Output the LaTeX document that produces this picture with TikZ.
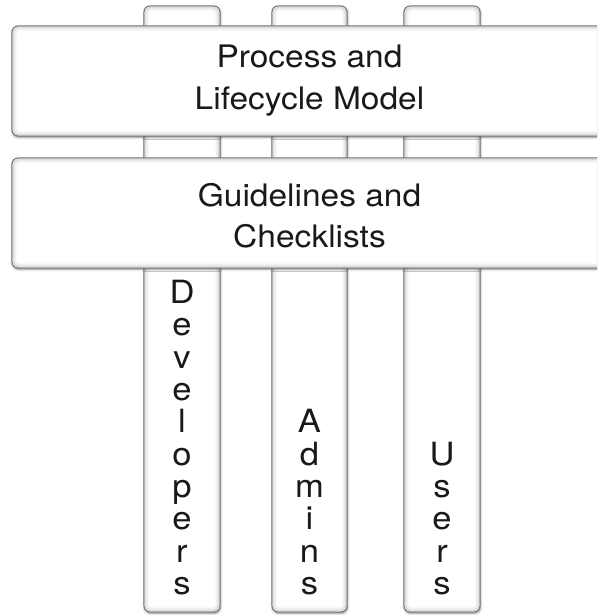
\documentclass[tikz,border=0pt]{standalone}
\usepackage{fontspec}
\setmainfont{TeX Gyre Heros}[FakeStretch=1.08]
\usetikzlibrary{shadows.blur}
\tikzset{
  panel/.style={draw=black!55, line width=1.1pt, fill=white, rounded corners=6pt,
    blur shadow={shadow xshift=0.6pt, shadow yshift=-1.4pt, shadow blur radius=2.2pt, shadow opacity=45}},
  glowA/.style={draw=black!14, line width=2pt, rounded corners=5pt},
  glowB/.style={draw=black!6, line width=2pt, rounded corners=4pt},
  collabel/.style={anchor=south, inner sep=0pt, align=center, font=\fontsize{32}{32.3}\selectfont, text=black!90},
  barlabel/.style={anchor=base, inner sep=0pt, font=\fontsize{31}{42}\selectfont, text=black!90},
}
\newcommand\mypanel[4]{%
  \path[panel] (#1,#2) rectangle (#3,#4);
  \draw[glowA] (#1+1.6,#2+1.6) rectangle (#3-1.6,#4-1.6);
  \draw[glowB] (#1+3.4,#2+3.4) rectangle (#3-3.4,#4-3.4);
}
\begin{document}
\begin{tikzpicture}[x=1pt,y=-1pt]
\useasboundingbox (0,0) rectangle (597,615);
\clip (0,0) rectangle (597,615);
% columns
\mypanel{144}{6}{220}{612}
\mypanel{272}{6}{347}{612}
\mypanel{404}{6}{480}{612}
\coordinate (devbot) at (182,595);
\coordinate (admbot) at (309.5,595);
\coordinate (usrbot) at (442,595);
\node[collabel] (dev) at (devbot) {D\\e\\v\\e\\l\\o\\p\\e\\r\\s};
\node[collabel] (adm) at (admbot) {A\\d\\m\\i\\n\\s};
\node[collabel] (usr) at (usrbot) {U\\s\\e\\r\\s};
% bars
\mypanel{12}{26}{640}{136}
\mypanel{12}{158}{640}{268}
\node[barlabel] (proc1) at (309.5,67.5) {Process and};
\node[barlabel] (proc2) at (309.5,110) {Lifecycle Model};
\node[barlabel] (guide1) at (309.5,206.7) {Guidelines and};
\node[barlabel] (guide2) at (309.5,247) {Checklists};
\end{tikzpicture}
\end{document}
